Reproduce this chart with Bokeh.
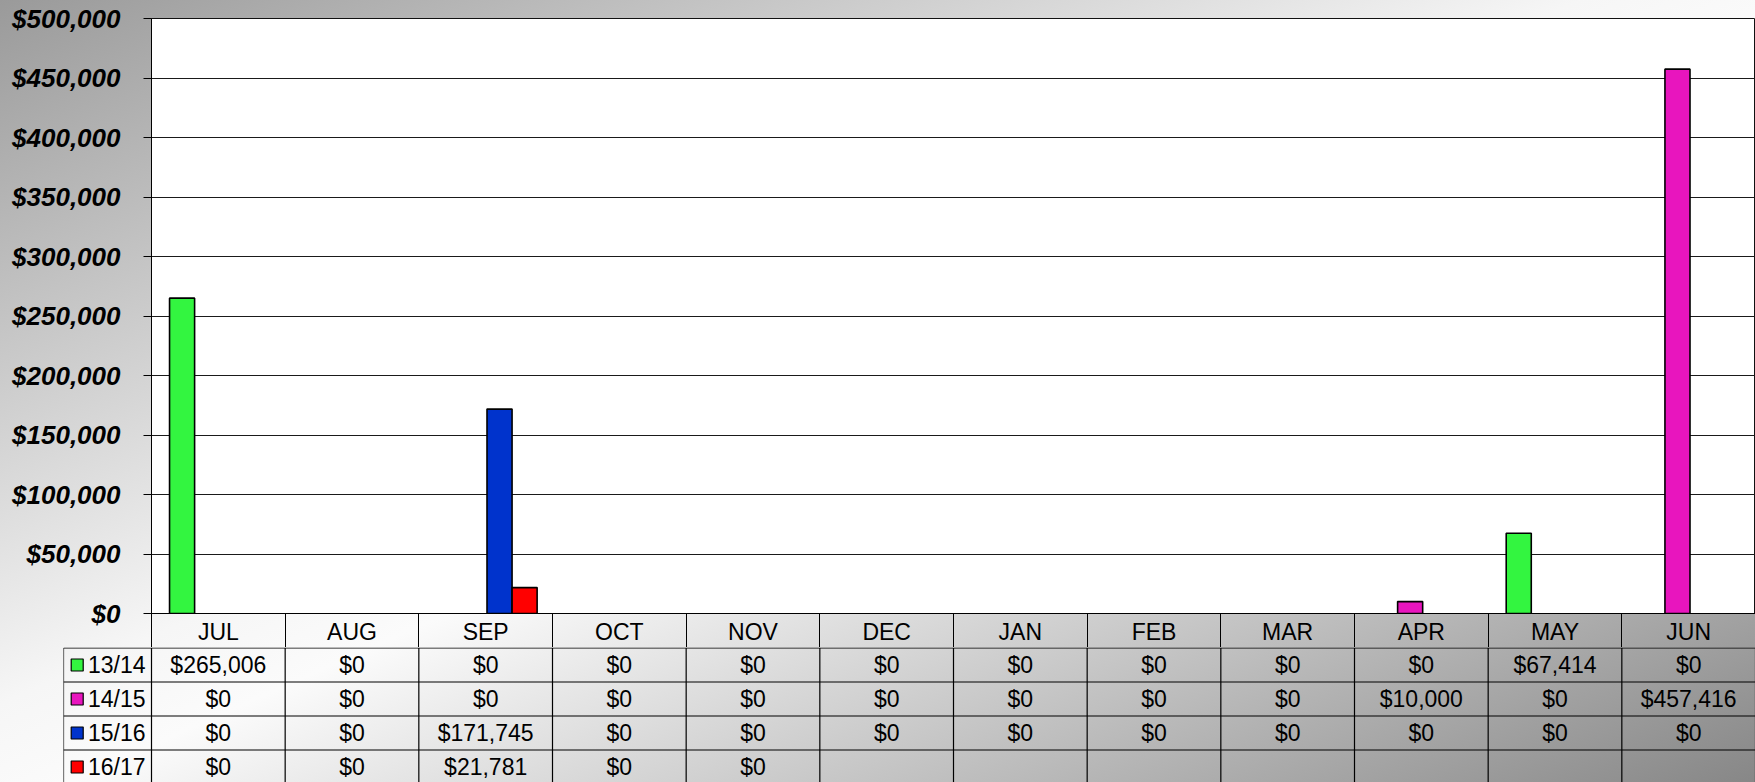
from bokeh.plotting import figure
from bokeh.models import Range1d, FixedTicker, NumeralTickFormatter, ColumnDataSource
from bokeh.layouts import column
from bokeh.embed import file_html
from bokeh.resources import INLINE
from bokeh.core.properties import value

# ---------------- data ----------------
months = ["JUL", "AUG", "SEP", "OCT", "NOV", "DEC", "JAN", "FEB", "MAR", "APR", "MAY", "JUN"]
series_names = ["13/14", "14/15", "15/16", "16/17"]
fy1314 = [265006, 0, 0, 0, 0, 0, 0, 0, 0, 0, 67414, 0]
fy1415 = [0, 0, 0, 0, 0, 0, 0, 0, 0, 10000, 0, 457416]
fy1516 = [0, 0, 171745, 0, 0, 0, 0, 0, 0, 0, 0, 0]
fy1617 = [0, 0, 21781, 0, 0]          # only months reported so far
series_colors = ["#33F540", "#E815BE", "#0033CC", "#FF0000"]
y_ticks = [0, 50000, 100000, 150000, 200000, 250000, 300000, 350000, 400000, 450000, 500000]

all_series = [fy1314, fy1415, fy1516, fy1617]

# ---------------- layout constants ----------------
W, H = 1755, 782
LEFT = 151          # frame left edge in chart figure
LEG_LEFT = 63       # legend column left edge
ROW = 34
TOP = 18
HA = TOP + 595 + ROW
HB = H - HA
COLW = (W - LEFT) / 12.0
FONT = "Liberation Sans"

# ---------------- chart figure ----------------
pA = figure(width=W, height=HA, x_range=Range1d(0, 12), y_range=Range1d(0, 500000),
            output_backend="svg", toolbar_location=None,
            min_border_left=LEFT, min_border_right=0, min_border_top=TOP, min_border_bottom=ROW)
pA.frame_align = False
pA.border_fill_color = None
pA.background_fill_color = "white"
pA.outline_line_color = "#111111"

bw = 0.1875
g0 = 0.135
for i, (vals, col) in enumerate(zip(all_series, series_colors)):
    xs = [j + g0 + bw * (i + 0.5) for j, v in enumerate(vals) if v]
    tops = [v for v in vals if v]
    src = ColumnDataSource(dict(x=xs, top=tops))
    pA.vbar(x="x", top="top", bottom=0, width=bw, source=src,
            fill_color=col, line_color="black", line_width=1.6)

pA.yaxis.ticker = FixedTicker(ticks=y_ticks)
pA.yaxis.formatter = NumeralTickFormatter(format="$0,0")
pA.yaxis.major_label_text_font = FONT
pA.yaxis.major_label_text_font_size = "26px"
pA.yaxis.major_label_text_font_style = "bold italic"
pA.yaxis.major_label_text_color = "black"
pA.yaxis.major_tick_out = 8
pA.yaxis.major_tick_in = 0
pA.yaxis.major_tick_line_color = "black"
pA.yaxis.minor_tick_line_color = None
pA.yaxis.axis_line_color = "black"
pA.yaxis.major_label_standoff = 23

pA.ygrid.ticker = FixedTicker(ticks=y_ticks)
pA.ygrid.grid_line_color = "#1a1a1a"
pA.ygrid.grid_line_width = 1
pA.xgrid.visible = False

centers = [j + 0.5 for j in range(len(months))]
pA.xaxis.ticker = FixedTicker(ticks=centers, minor_ticks=list(range(len(months) + 1)))
pA.xaxis.major_label_overrides = {c: m for c, m in zip(centers, months)}
pA.xaxis.major_tick_out = 0
pA.xaxis.major_tick_in = 0
pA.xaxis.minor_tick_out = ROW
pA.xaxis.minor_tick_in = 0
pA.xaxis.minor_tick_line_color = "black"
pA.xaxis.axis_line_color = "black"
pA.xaxis.major_label_standoff = 5 - ROW
pA.xaxis.major_label_text_font = FONT
pA.xaxis.major_label_text_font_size = "23px"
pA.xaxis.major_label_text_color = "black"

# ---------------- data table figure ----------------
xL = -(LEFT - LEG_LEFT) / COLW
y_top = 0.5 / ROW
pB = figure(width=W, height=HB, x_range=Range1d(xL, 12), y_range=Range1d(y_top - HB / ROW, y_top),
            output_backend="svg", toolbar_location=None, x_axis_type=None, y_axis_type=None,
            min_border_left=LEG_LEFT, min_border_right=0, min_border_top=0, min_border_bottom=0)
pB.frame_align = False
pB.border_fill_color = None
pB.background_fill_color = None
pB.outline_line_color = None
pB.xgrid.visible = False
pB.ygrid.visible = False

# table rules
hy = [0, -1, -2, -3]
pB.segment(x0=[xL] * len(hy), y0=hy, x1=[12] * len(hy), y1=hy, line_color="black", line_width=1.2)
vx = [xL] + list(range(len(months) + 1))
pB.segment(x0=vx, y0=[0] * len(vx), x1=vx, y1=[-4] * len(vx), line_color="black", line_width=1.2)

# cell values
tx, ty, tt = [], [], []
for k, vals in enumerate(all_series):
    for j, v in enumerate(vals):
        tx.append(j + 0.5)
        ty.append(-(k + 0.5))
        tt.append("$" + format(v, ","))
pB.text(x=tx, y=ty, text=tt, text_align="center", text_baseline="middle",
        text_font=value(FONT), text_font_size="23px", text_color="black")

# row headers with legend keys
sq_x = (76.7 - LEFT) / COLW
lab_x = (87.5 - LEFT) / COLW
ry = [-(k + 0.5) for k in range(len(series_names))]
pB.scatter(x=[sq_x] * len(ry), y=ry, marker="square", size=12,
           fill_color=series_colors, line_color="black", line_width=1.2)
pB.text(x=[lab_x] * len(ry), y=ry, text=series_names, text_align="left", text_baseline="middle",
        text_font=value(FONT), text_font_size="23px", text_color="black")

layout = column(pA, pB, spacing=0,
                styles={"background": "linear-gradient(to bottom right, #9a9a9a 0%, #f6f6f6 45%, #fbfbfb 52%, #878787 100%)"})

open("out.html", "w").write(file_html(layout, INLINE))
